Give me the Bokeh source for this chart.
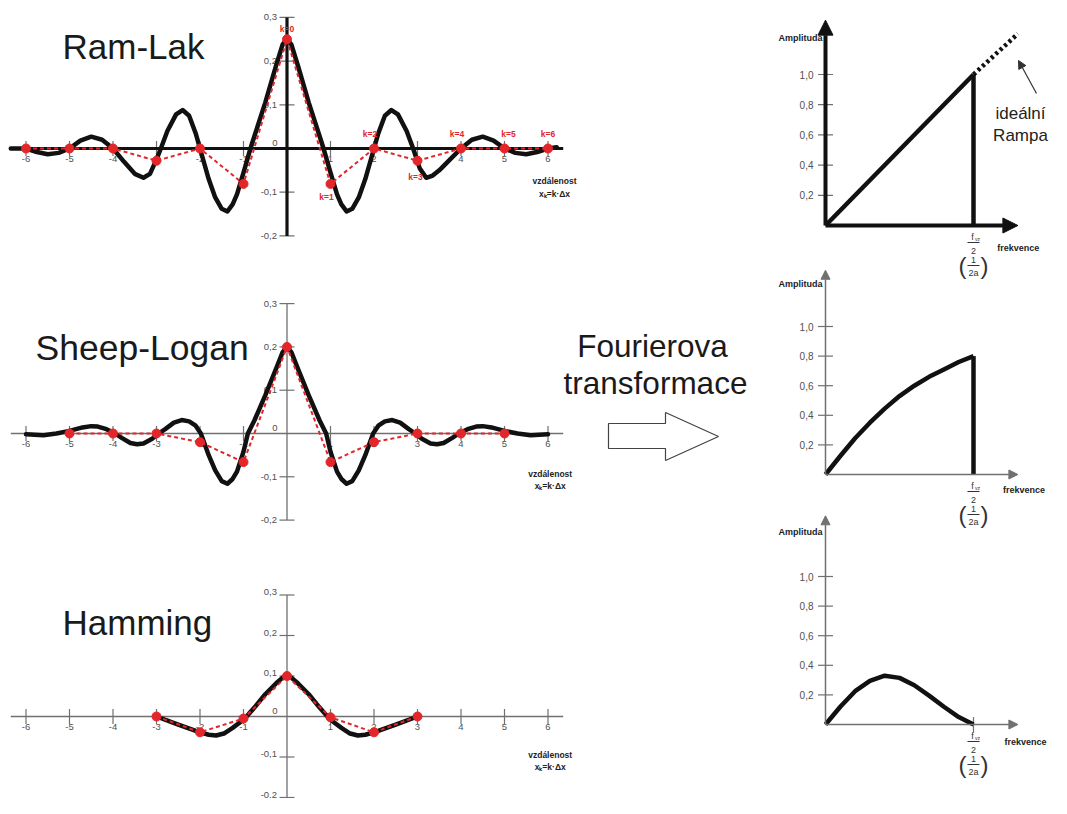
import math
from bokeh.plotting import figure
from bokeh.models import Range1d, Arrow, NormalHead
from bokeh.embed import file_html
from bokeh.resources import INLINE
from bokeh.core.properties import value

# ---------------- data ----------------
x_ticks = [-6, -5, -4, -3, -2, -1, 1, 2, 3, 4, 5, 6]
x_tick_labels = ["-6", "-5", "-4", "-3", "-2", "-1", "1", "2", "3", "4", "5", "6"]
y_ticks_left = [0.3, 0.2, 0.1, -0.1, -0.2]
y_tick_labels_left = ["0,3", "0,2", "0,1", "-0,1", "-0,2"]
amp_ticks = [0.2, 0.4, 0.6, 0.8, 1.0]
amp_tick_labels = ["0,2", "0,4", "0,6", "0,8", "1,0"]

# Ram-Lak impulse response (continuous curve)
ramlak_x = [-6.35, -6.0, -5.75, -5.5, -5.25, -5.0, -4.75, -4.5, -4.25, -4.0, -3.75, -3.5, -3.3, -3.15,
            -3.0, -2.9, -2.75, -2.55, -2.4, -2.25, -2.1, -2.0, -1.8, -1.65, -1.5, -1.37, -1.25, -1.15,
            -1.0, -0.84, -0.75, -0.5, -0.25, -0.1, 0.0, 0.1, 0.25, 0.5, 0.75, 0.84, 1.0, 1.15, 1.25,
            1.37, 1.5, 1.65, 1.8, 2.0, 2.1, 2.25, 2.4, 2.55, 2.75, 2.9, 3.05, 3.2, 3.35, 3.5, 3.75,
            4.0, 4.25, 4.5, 4.75, 5.0, 5.25, 5.5, 5.75, 6.0, 6.2]
ramlak_y = [0.0, 0.0, -0.008, -0.013, -0.010, 0.0, 0.018, 0.027, 0.020, 0.0, -0.030, -0.058, -0.067, -0.058,
            -0.025, 0.0, 0.040, 0.078, 0.088, 0.075, 0.035, 0.0, -0.070, -0.112, -0.138, -0.144, -0.128, -0.105,
            -0.055, 0.0, 0.028, 0.105, 0.190, 0.238, 0.250, 0.238, 0.190, 0.105, 0.028, 0.0, -0.055, -0.105, -0.128,
            -0.144, -0.138, -0.112, -0.070, 0.0, 0.035, 0.075, 0.088, 0.078, 0.040, 0.0, -0.045, -0.067, -0.062, -0.050, -0.025,
            0.0, 0.020, 0.027, 0.018, 0.0, -0.010, -0.013, -0.008, 0.0, 0.003]
ramlak_k = [-6, -5, -4, -3, -2, -1, 0, 1, 2, 3, 4, 5, 6]
ramlak_h = [0.0, 0.0, 0.0, -0.028, 0.0, -0.081, 0.25, -0.081, 0.0, -0.028, 0.0, 0.0, 0.0]
ramlak_label_k = [0, 1, 2, 3, 4, 5, 6]
ramlak_labels = ["k=0", "k=1", "k=2", "k=3", "k=4", "k=5", "k=6"]

# Shepp-Logan impulse response
sl_x = [-6.0, -5.6, -5.3, -5.0, -4.7, -4.5, -4.35, -4.15, -3.95, -3.8, -3.6, -3.45, -3.3, -3.1, -2.95, -2.8,
        -2.6, -2.42, -2.25, -2.1, -1.98, -1.8, -1.65, -1.5, -1.37, -1.25, -1.15, -1.0, -0.9, -0.75, -0.5, -0.25,
        -0.1, 0.0, 0.1, 0.25, 0.5, 0.75, 0.9, 1.0, 1.15, 1.25, 1.37, 1.5, 1.65, 1.8, 1.98, 2.1, 2.25, 2.42, 2.6,
        2.8, 2.95, 3.1, 3.3, 3.45, 3.6, 3.8, 3.95, 4.15, 4.35, 4.5, 4.7, 5.0, 5.3, 5.6, 6.0]
sl_y = [-0.002, -0.004, 0.0, 0.006, 0.014, 0.017, 0.016, 0.010, 0.0, -0.010, -0.022, -0.025, -0.023, -0.012, 0.0, 0.010,
        0.025, 0.031, 0.028, 0.018, 0.0, -0.050, -0.085, -0.110, -0.116, -0.105, -0.088, -0.042, 0.0, 0.030, 0.088, 0.150,
        0.188, 0.200, 0.188, 0.150, 0.088, 0.030, 0.0, -0.042, -0.088, -0.105, -0.116, -0.110, -0.085, -0.050, 0.0, 0.018, 0.028, 0.031, 0.025,
        0.010, 0.0, -0.012, -0.023, -0.025, -0.022, -0.010, 0.0, 0.010, 0.016, 0.017, 0.014, 0.006, 0.0, -0.004, -0.002]
sl_k = [-5, -4, -3, -2, -1, 0, 1, 2, 3, 4, 5]
sl_h = [0.0, 0.0, 0.0, -0.020, -0.066, 0.200, -0.066, -0.020, 0.0, 0.0, 0.0]

# Hamming impulse response
ham_x = [-3.0, -2.5, -2.0, -1.8, -1.63, -1.45, -1.25, -1.0, -0.93, -0.75, -0.5, -0.25, -0.1, 0.0,
         0.1, 0.25, 0.5, 0.75, 0.93, 1.0, 1.25, 1.45, 1.63, 1.8, 2.0, 2.5, 3.0]
ham_y = [0.0, -0.020, -0.039, -0.045, -0.047, -0.042, -0.028, -0.008, 0.0, 0.022, 0.055, 0.082, 0.096, 0.100,
         0.096, 0.082, 0.055, 0.022, 0.0, -0.008, -0.028, -0.042, -0.047, -0.045, -0.039, -0.020, 0.0]
ham_k = [-3, -2, -1, 0, 1, 2, 3]
ham_h = [0.0, -0.039, -0.005, 0.100, -0.002, -0.039, 0.0]

# frequency responses (frequency normalised so that f_vz/2 = 1)
ramp_f = [0.0, 1.0]
ramp_a = [0.0, 1.0]
ideal_f = [1.0, 1.3]
ideal_a = [1.0, 1.27]
slr_f = [0.0, 0.1, 0.2, 0.3, 0.4, 0.5, 0.6, 0.7, 0.8, 0.9, 1.0]
slr_a = [0.0, 0.125, 0.245, 0.35, 0.445, 0.53, 0.60, 0.66, 0.71, 0.76, 0.80]
hamr_f = [0.0, 0.1, 0.2, 0.3, 0.4, 0.5, 0.6, 0.7, 0.8, 0.9, 1.0]
hamr_a = [0.0, 0.12, 0.225, 0.295, 0.33, 0.315, 0.265, 0.195, 0.12, 0.05, 0.0]

# ---------------- layout / style ----------------
W, H = 1051, 798
RED = "#e2262a"
BLACK = "#111111"
GRAY = "#707070"
TXT = "#505050"
FONT = value("Liberation Sans")

# panel geometry: (origin x px, px per unit x, origin y px, px per unit y)
PANELS = {
    "ram": (286.5, 43.5, 148, 437),
    "sl": (286.5, 43.5, 433, 433),
    "ham": (286.5, 43.5, 716, 405),
    "r1": (825, 148, 225, 151),
    "r2": (825, 148, 474, 148),
    "r3": (825, 148, 724, 148),
}

p = figure(width=W, height=H, output_backend="svg", toolbar_location=None, title=None,
           x_range=Range1d(0, W), y_range=Range1d(H, 0),
           x_axis_type=None, y_axis_type=None, min_border=0)
p.outline_line_color = None
p.background_fill_color = "white"
p.border_fill_color = "white"

exr, eyr = {}, {}
for name, (x0, ux, y0, vy) in PANELS.items():
    exr[name] = Range1d((0 - x0) / ux, (W - x0) / ux)
    eyr[name] = Range1d((y0 - H) / vy, (y0 - 0) / vy)
p.extra_x_ranges = exr
p.extra_y_ranges = eyr


def R(name):
    return dict(x_range_name=name, y_range_name=name)


def txt(xs, ys, texts, rn=None, size="9.5px", color=TXT, align="center", baseline="middle",
        bold=False, dx=0, dy=0):
    kw = R(rn) if rn else {}
    p.text(x=xs, y=ys, text=texts, x_offset=dx, y_offset=dy, text_align=align,
           text_baseline=baseline, text_font=FONT, text_font_size=size, text_color=color,
           text_font_style="bold" if bold else "normal", **kw)


def left_panel(rn, heavy, cx, cy, kx, kv, vz_x, vz_y, ylab_dy):
    ac = BLACK if heavy else GRAY
    aw = 3.2 if heavy else 1.3
    n = len(x_ticks)
    txt(x_ticks, [0] * n, x_tick_labels, rn, baseline="top", dy=7)
    txt([0], [0], ["0"], rn, dx=-12, dy=-6)
    txt([0] * len(y_ticks_left), y_ticks_left, y_tick_labels_left, rn, align="right", dx=-10, dy=ylab_dy)
    p.scatter(x=x_ticks, y=[0] * n, marker="dash", angle=math.pi / 2, size=15,
              line_color=GRAY, line_width=1.2, **R(rn))
    p.scatter(x=[0] * len(y_ticks_left), y=y_ticks_left, marker="dash", size=15,
              line_color=GRAY, line_width=1.2, **R(rn))
    p.line(x=[-6.35, 6.35], y=[0, 0], line_color=ac, line_width=aw, **R(rn))
    p.line(x=[0, 0], y=[-0.2, 0.3], line_color=ac, line_width=aw, **R(rn))
    p.line(x=cx, y=cy, line_color=BLACK, line_width=4.5, line_join="round", line_cap="round", **R(rn))
    p.line(x=kx, y=kv, line_color=RED, line_width=2, line_dash="4 3", **R(rn))
    p.scatter(x=kx, y=kv, marker="circle", size=9, fill_color=RED, line_color=RED, **R(rn))
    txt([vz_x, vz_x], vz_y, ["vzdálenost", "xₖ=k·Δx"], rn, size="8.5px", color="#222", bold=True)


def right_panel(rn, heavy, fx, fa, vy, y_tip, amp_y, frek_x, frek_y, vertical, fc_tick):
    ac = BLACK if heavy else GRAY
    aw = 4.0 if heavy else 1.5
    hs = 15 if heavy else 9
    m = len(amp_ticks)
    txt([0] * m, amp_ticks, amp_tick_labels, rn, size="10px", align="right", dx=-12)
    p.scatter(x=[0] * m, y=amp_ticks, marker="dash", size=15, line_color=GRAY, line_width=1.2, **R(rn))
    if fc_tick:
        p.scatter(x=[1.0], y=[0], marker="dash", angle=math.pi / 2, size=15, line_color=GRAY,
                  line_width=1.2, **R(rn))
    for (xe, ye) in [(1.3, 0.0), (0.0, y_tip)]:
        p.add_layout(Arrow(end=NormalHead(size=hs, fill_color=ac, line_color=ac, line_width=1),
                           x_start=0, y_start=0, x_end=xe, y_end=ye, line_color=ac,
                           line_width=aw, **R(rn)))
    p.line(x=fx, y=fa, line_color=BLACK, line_width=4.5, line_join="round", **R(rn))
    if vertical:
        p.line(x=[fx[-1], fx[-1]], y=[0, fa[-1]], line_color=BLACK, line_width=4.5, **R(rn))
    g = "#333333"
    txt([1.0], [0], ["f"], rn, size="9px", color=g, dx=-1, dy=11)
    txt([1.0], [0], ["vz"], rn, size="5px", color=g, dx=4, dy=13)
    p.scatter(x=[1.0, 1.0], y=[-17 / vy, -40 / vy], marker="dash", size=12, line_color=g,
              line_width=1, **R(rn))
    txt([1.0], [0], ["2"], rn, size="9px", color=g, dy=25)
    txt([1.0], [0], ["1"], rn, size="9px", color=g, dy=34)
    txt([1.0], [0], ["2a"], rn, size="9px", color=g, dy=47)
    txt([1.0], [0], ["("], rn, size="24px", color=g, dx=-11, dy=40)
    txt([1.0], [0], [")"], rn, size="24px", color=g, dx=11, dy=40)
    txt([0], [amp_y], ["Amplituda"], rn, size="9px", color="#222", align="right", bold=True, dx=-3)
    txt([frek_x], [frek_y], ["frekvence"], rn, size="9px", color="#222", align="left", bold=True)


# ---------------- left column ----------------
left_panel("ram", True, ramlak_x, ramlak_y, ramlak_k, ramlak_h, 6.15, [-0.075, -0.103], 0)
lab_dx = [0, -4, -4, -2, -4, 4, 0]
lab_dy = [-10, 13, -15, 16, -15, -15, -15]
lab_v = [ramlak_h[ramlak_k.index(k)] for k in ramlak_label_k]
p.text(x=ramlak_label_k, y=lab_v, text=ramlak_labels, x_offset=lab_dx, y_offset=lab_dy,
       text_align="center", text_baseline="middle", text_font=FONT, text_font_size="8.5px",
       text_font_style="bold", text_color=RED, **R("ram"))

left_panel("sl", False, sl_x, sl_y, sl_k, sl_h, 6.05, [-0.093, -0.122], 0)
left_panel("ham", False, ham_x, ham_y, ham_k, ham_h, 6.05, [-0.095, -0.125], -3)

txt([62], [46], ["Ram-Lak"], size="35px", color="#1a1a1a", align="left")
txt([35], [347], ["Sheep-Logan"], size="35.5px", color="#1a1a1a", align="left")
txt([62], [622], ["Hamming"], size="35px", color="#1a1a1a", align="left")

# ---------------- middle ----------------
txt([652], [345], ["Fourierova"], size="31.5px", color="#1a1a1a")
txt([655], [382], ["transformace"], size="31.5px", color="#1a1a1a")
arrow_xs = [608, 665, 665, 718, 665, 665, 608]
arrow_ys = [423, 423, 412, 436, 460, 448, 448]
p.patch(x=arrow_xs, y=arrow_ys, fill_color="white", line_color="#444444", line_width=1.2)

# ---------------- right column ----------------
right_panel("r1", True, ramp_f, ramp_a, 151, 1.36, 1.245, 1.16, -0.152, True, False)
p.line(x=ideal_f, y=ideal_a, line_color=BLACK, line_width=4.5, line_dash="3 3", **R("r1"))
right_panel("r2", False, slr_f, slr_a, 148, 1.38, 1.29, 1.20, -0.108, True, False)
right_panel("r3", False, hamr_f, hamr_a, 148, 1.41, 1.30, 1.21, -0.115, False, True)

p.add_layout(Arrow(end=NormalHead(size=8, fill_color="#333", line_color="#333", line_width=1),
                   x_start=1036, y_start=93, x_end=1018, y_end=60, line_color="#333", line_width=1.2))
txt([1020], [113], ["ideální"], size="17px", color="#222")
txt([1020], [135], ["Rampa"], size="17px", color="#222")

open("out.html", "w").write(file_html(p, INLINE))
